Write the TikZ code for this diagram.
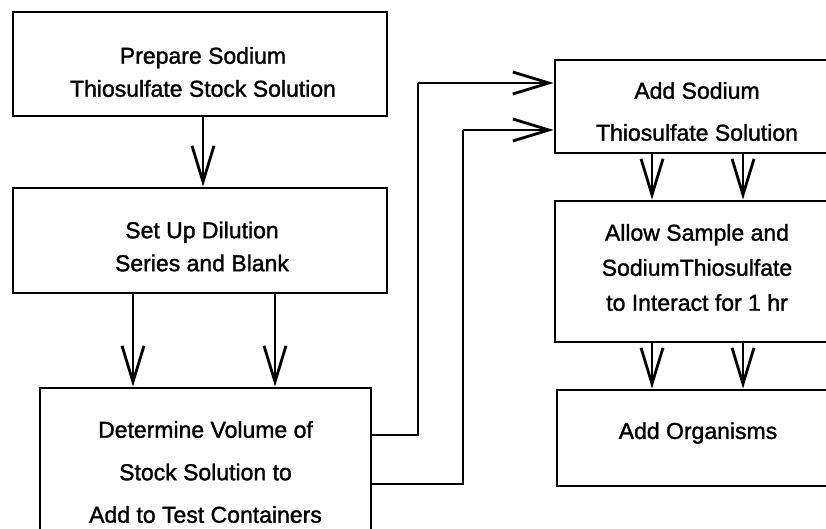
\documentclass[tikz,border=0pt]{standalone}
\usepackage{fontspec}
\setmainfont{Liberation Sans}
\newfontfamily\stepfont{Liberation Sans}[FakeBold=1.4]
\usetikzlibrary{arrows.meta}
\tikzset{
  stepbox/.style={draw, line width=2.8pt, rectangle, inner sep=0pt},
  steptext/.style={align=center, inner sep=0pt, font=\stepfont\fontsize{23}{33}\selectfont},
  flow/.style={line width=2.8pt, -{Straight Barb[length=36pt, width=22pt, line width=2.8pt]}},
  link/.style={line width=2.8pt}
}
\begin{document}
\begin{tikzpicture}[x=1pt, y=-1pt]
  \useasboundingbox (0,0) rectangle (826,529);
  \clip (0,0) rectangle (826,529);
  \fill[white] (0,0) rectangle (826,529);

  % process steps, left column
  \node[stepbox, minimum width=374pt, minimum height=104pt] (prep) at (200,64) {};
  \node[steptext] (prep-t) at ([shift={(3,8)}]prep.center)
    {Prepare Sodium\\Thiosulfate Stock Solution};
  \node[stepbox, minimum width=374pt, minimum height=105pt] (dil) at (200,240.5) {};
  \node[steptext] (dil-t) at ([shift={(2,6)}]dil.center)
    {Set Up Dilution\\Series and Blank};
  \node[stepbox, minimum width=331pt, minimum height=168pt] (vol) at (205.5,472) {};
  \node[steptext, font=\stepfont\fontsize{23}{42.5}\selectfont] (vol-t) at (vol.center)
    {Determine Volume of\\Stock Solution to\\Add to Test Containers};

  % process steps, right column
  \node[stepbox, minimum width=284pt, minimum height=93pt] (add) at (697,106.5) {};
  \node[steptext, font=\stepfont\fontsize{23}{42}\selectfont] (add-t) at ([shift={(0,5)}]add.center)
    {Add Sodium\\Thiosulfate Solution};
  \node[stepbox, minimum width=284pt, minimum height=141pt] (wait) at (697,271.5) {};
  \node[steptext, font=\stepfont\fontsize{23}{35}\selectfont] (wait-t) at ([shift={(0,-4)}]wait.center)
    {Allow Sample and\\SodiumThiosulfate\\to Interact for 1 hr};
  \node[stepbox, minimum width=282pt, minimum height=96pt] (org) at (698,438) {};
  \node[steptext] (org-t) at ([shift={(0,-5)}]org.center) {Add Organisms};

  % guide coordinates for the connectors
  \coordinate (xa) at (203,0);
  \coordinate (xb) at (133,0);
  \coordinate (xc) at (275,0);
  \coordinate (xd) at (652,0);
  \coordinate (xe) at (743,0);
  \coordinate (ya) at (0,435);
  \coordinate (yb) at (0,484);
  \coordinate (ka) at (418,83);
  \coordinate (kb) at (463,130);

  % vertical flow arrows
  \draw[flow] (prep.south -| xa) -- (dil.north -| xa);
  \draw[flow] (dil.south -| xb) -- (vol.north -| xb);
  \draw[flow] (dil.south -| xc) -- (vol.north -| xc);
  \draw[flow] (add.south -| xd) -- (wait.north -| xd);
  \draw[flow] (add.south -| xe) -- (wait.north -| xe);
  \draw[flow] (wait.south -| xd) -- (org.north -| xd);
  \draw[flow] (wait.south -| xe) -- (org.north -| xe);

  % feeds from the volume step to the addition step
  \draw[link] (vol.east |- ya) -| (ka);
  \draw[flow] (ka) -- (add.west |- ka);
  \draw[link] (vol.east |- yb) -| (kb);
  \draw[flow] (kb) -- (add.west |- kb);
\end{tikzpicture}
\end{document}
